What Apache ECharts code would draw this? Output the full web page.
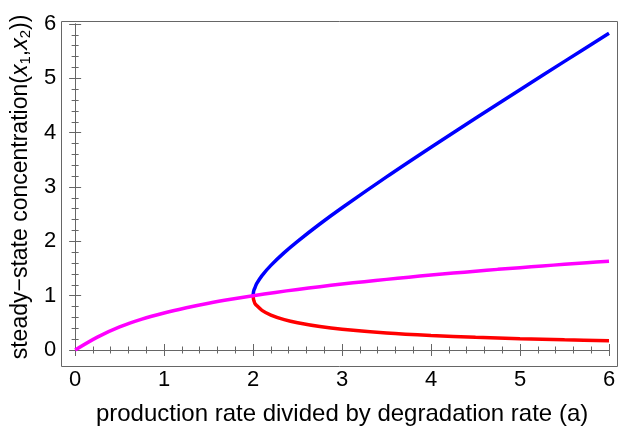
<!DOCTYPE html>
<html>
<head>
    <meta charset="utf-8">
    <title>bifurcation</title>
    <script src="https://cdn.jsdelivr.net/npm/echarts@6.0.0/dist/echarts.min.js"></script>
</head>
<body style="margin:0">
    <div id="main" style="width: 620px;height:431px;"></div>
    <script type="text/javascript">
        // symmetric branch (magenta): a -> x
        var symA = [0, 0.25, 0.5, 0.75, 1, 1.25, 1.5, 1.75, 2, 2.25, 2.5, 2.75, 3, 3.25, 3.5, 3.75, 4, 4.25, 4.5, 4.75, 5, 5.25, 5.5, 5.75, 6];
        var symX = [0, 0.237, 0.424, 0.568, 0.682, 0.778, 0.861, 0.934, 1, 1.06, 1.115, 1.166, 1.213, 1.258, 1.3, 1.341, 1.379, 1.415, 1.45, 1.484, 1.516, 1.547, 1.577, 1.606, 1.634];

        // asymmetric branches (blue high, red low)
        var asymA = [2, 2.005, 2.01, 2.02, 2.04, 2.1, 2.2, 2.35, 2.5, 2.75, 3, 3.5, 4, 4.5, 5, 5.5, 6];
        var highX = [1, 1.071, 1.105, 1.142, 1.221, 1.370, 1.558, 1.792, 2.0, 2.319, 2.618, 3.186, 3.732, 4.266, 4.791, 5.312, 5.828];
        var lowX = [1, 0.929, 0.905, 0.858, 0.819, 0.730, 0.642, 0.558, 0.5, 0.431, 0.382, 0.314, 0.268, 0.234, 0.209, 0.188, 0.172];

        var xTicks = [0, 1, 2, 3, 4, 5, 6];
        var yTicks = [0, 1, 2, 3, 4, 5, 6];

        function pairs(xs, ys) {
            return xs.map(function (v, i) { return [v, ys[i]]; });
        }

        var chartDom = document.getElementById('main');
        var myChart = echarts.init(chartDom);
        var option;

        var frameColor = '#666';
        var font = '"Liberation Sans", Arial, sans-serif';

        var tickStyle = {
            axisLine: { show: true, lineStyle: { color: frameColor, width: 1 } },
            axisTick: { show: true, inside: true, length: 6, lineStyle: { color: frameColor, width: 1 } },
            minorTick: { show: true, splitNumber: 5, length: 3.5, lineStyle: { color: frameColor, width: 1 } },
            splitLine: { show: false }
        };

        function axis(extra) {
            return Object.assign({
                type: 'value',
                min: xTicks[0],
                max: xTicks[xTicks.length - 1],
                interval: 1
            }, tickStyle, extra);
        }

        option = {
            animation: false,
            grid: { left: 72, right: 11, top: 24, bottom: 75 },
            graphic: [{
                type: 'rect',
                shape: { x: 61.5, y: 21.5, width: 556, height: 345 },
                style: { fill: 'none', stroke: frameColor, lineWidth: 1 },
                z: 10
            }],
            xAxis: [
                axis({
                    position: 'bottom',
                    offset: 11,
                    axisLabel: { color: '#000', fontSize: 22, fontFamily: font, margin: 8 },
                    name: 'production rate divided by degradation rate (a)',
                    nameLocation: 'middle',
                    nameGap: 41,
                    nameTextStyle: { fontSize: 24, fontFamily: font, color: '#000' }
                }),
                axis({ position: 'top', offset: 3, axisLabel: { show: false } })
            ],
            yAxis: [
                axis({
                    min: yTicks[0],
                    max: yTicks[yTicks.length - 1],
                    position: 'left',
                    offset: 11,
                    axisLabel: { color: '#000', fontSize: 22, fontFamily: font, margin: 8 },
                    name: '{t|steady\u2212state concentration(}{i|x}{b|1}{t|,}{i|x}{b|2}{t|))}',
                    nameLocation: 'middle',
                    nameGap: 27,
                    nameTextStyle: {
                        rich: {
                            t: { fontSize: 23, fontFamily: font, color: '#000', lineHeight: 26 },
                            i: { fontSize: 23, fontFamily: font, fontStyle: 'italic', color: '#000', lineHeight: 26 },
                            b: { fontSize: 15, fontFamily: font, color: '#000', lineHeight: 26, padding: [10, 0, 0, 0] }
                        }
                    }
                }),
                axis({
                    min: yTicks[0],
                    max: yTicks[yTicks.length - 1],
                    position: 'right',
                    offset: 9,
                    axisLabel: { show: false }
                })
            ],
            series: [{
                type: 'line',
                data: pairs(asymA, highX),
                showSymbol: false,
                smooth: 0.3,
                lineStyle: { color: '#0000ff', width: 3.5 },
                z: 2
            }, {
                type: 'line',
                data: pairs(asymA, lowX),
                showSymbol: false,
                smooth: 0.3,
                lineStyle: { color: '#ff0000', width: 3.5 },
                z: 3
            }, {
                type: 'line',
                data: pairs(symA, symX),
                showSymbol: false,
                smooth: 0.3,
                lineStyle: { color: '#ff00ff', width: 3.5 },
                z: 4
            }]
        };

        option && myChart.setOption(option);
    </script>
</body>
</html>
